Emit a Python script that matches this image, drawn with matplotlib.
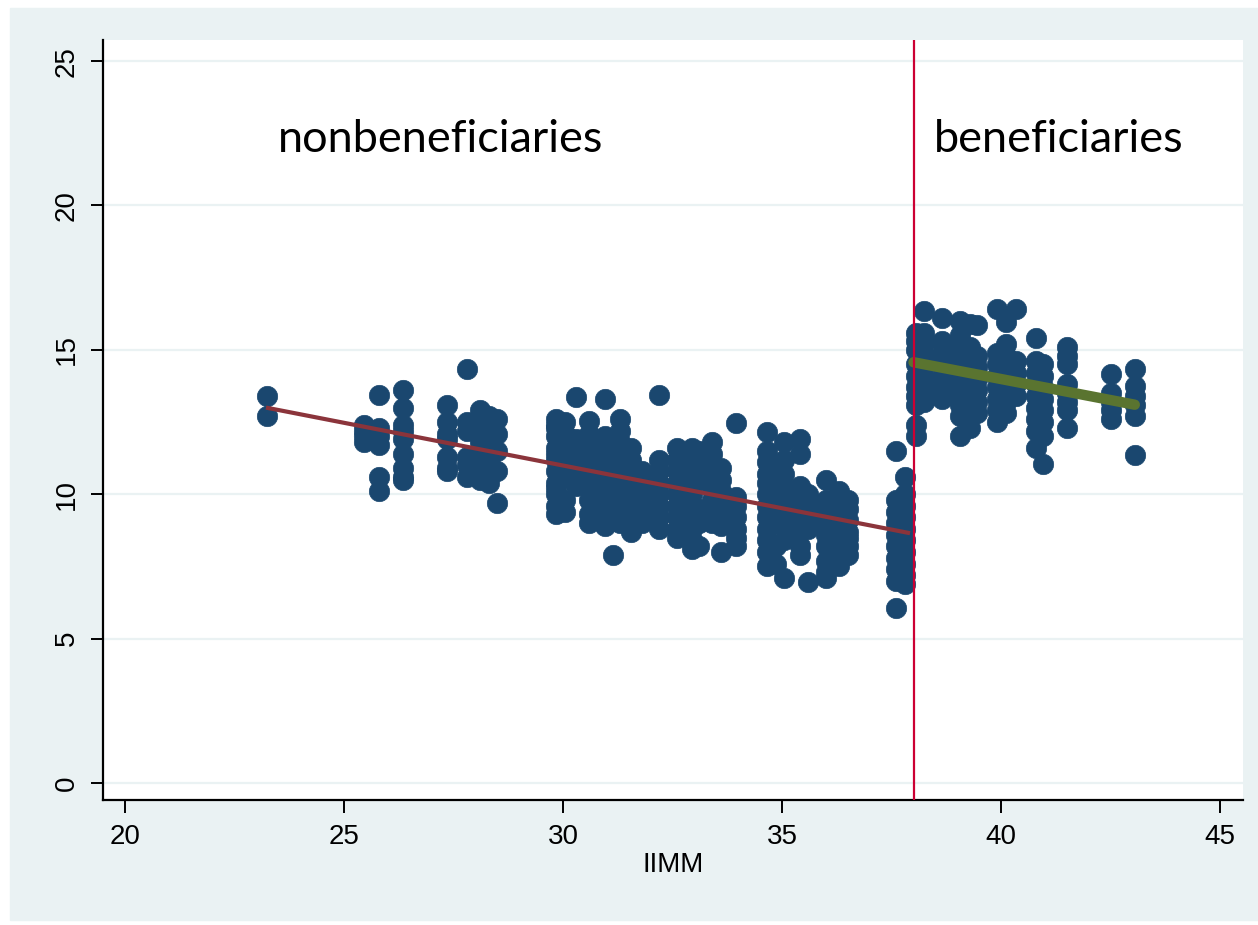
import matplotlib
matplotlib.use("Agg")
import matplotlib.pyplot as plt
import numpy as np

#===========data===========
# nonbeneficiaries (IIMM < 38), grouped by column
non_x = (
    [23.25]*2 + [25.45]*4 + [25.8]*6 + [26.35]*9 + [27.35]*7 + [27.8]*6
    + [28.1]*7 + [28.3]*7 + [28.5]*5 + [29.85]*13 + [30.05]*7 + [30.3]*6
    + [30.6]*9 + [30.95]*10 + [31.15]*7 + [31.3]*9 + [31.55]*8 + [31.8]*6
    + [32.2]*8 + [32.6]*9 + [32.95]*10 + [33.1]*6 + [33.4]*8 + [33.6]*7
    + [33.95]*7 + [34.65]*12 + [34.85]*8 + [35.05]*9 + [35.4]*9 + [35.6]*5
    + [36.0]*9 + [36.3]*8 + [36.5]*7 + [37.6]*10 + [37.8]*10
)
non_y = [
    13.4, 12.7,
    12.4, 12.2, 12.0, 11.8,
    13.45, 12.3, 12.0, 11.7, 10.6, 10.1,
    13.6, 13.0, 12.4, 12.2, 11.9, 11.4, 10.9, 10.6, 10.5,
    13.1, 12.5, 12.1, 11.9, 11.3, 10.9, 10.8,
    14.35, 12.5, 12.2, 11.3, 10.6, 11.0,
    12.9, 12.5, 12.2, 11.8, 11.4, 10.9, 10.5,
    12.7, 12.3, 12.0, 11.6, 11.1, 10.7, 10.4,
    12.6, 12.1, 11.5, 10.8, 9.7,
    12.6, 12.3, 12.0, 11.6, 11.2, 10.8, 10.4, 10.0, 9.6, 9.3, 12.4, 11.4, 10.2,
    12.5, 12.1, 11.7, 11.0, 10.6, 9.8, 9.4,
    13.35, 11.9, 11.5, 11.1, 10.7, 10.3,
    12.55, 12.1, 11.8, 11.3, 10.8, 10.3, 9.8, 9.3, 9.0,
    13.3, 12.0, 11.6, 11.2, 10.9, 10.5, 10.1, 9.7, 9.3, 8.9,
    11.8, 11.4, 11.0, 10.6, 10.2, 9.5, 7.9,
    12.6, 12.2, 11.8, 11.3, 10.8, 10.4, 10.0, 9.5, 9.0,
    11.6, 11.2, 10.8, 10.4, 10.0, 9.6, 9.1, 8.7,
    10.8, 10.4, 10.0, 9.6, 9.2, 9.0,
    13.45, 11.2, 10.8, 10.4, 10.0, 9.6, 9.2, 8.8,
    11.6, 11.2, 10.8, 10.4, 10.0, 9.6, 9.2, 8.8, 8.5,
    11.6, 11.2, 10.8, 10.4, 10.0, 9.6, 9.2, 8.8, 8.4, 8.1,
    11.5, 11.0, 10.5, 9.5, 9.0, 8.2,
    11.8, 11.4, 11.0, 10.6, 10.2, 9.8, 9.4, 9.0,
    10.9, 10.5, 10.1, 9.7, 9.3, 8.9, 8.0,
    12.45, 9.9, 9.6, 9.2, 8.8, 8.5, 8.2,
    12.15, 11.5, 11.1, 10.7, 10.4, 10.0, 9.6, 9.2, 8.8, 8.4, 8.0, 7.5,
    11.0, 10.6, 10.2, 9.8, 9.4, 9.0, 8.2, 7.6,
    11.8, 11.2, 10.7, 10.2, 9.8, 9.3, 8.9, 8.4, 7.1,
    11.9, 11.4, 10.3, 9.9, 9.5, 9.1, 8.7, 8.2, 7.9,
    10.0, 9.6, 9.2, 8.8, 6.95,
    10.5, 9.8, 9.4, 9.0, 8.6, 8.2, 7.7, 7.3, 7.1,
    10.1, 9.7, 9.3, 8.9, 8.5, 8.1, 7.7, 7.5,
    9.8, 9.5, 9.1, 8.7, 8.5, 8.2, 7.9,
    11.5, 9.8, 9.4, 9.0, 8.6, 8.2, 7.8, 7.4, 7.0, 6.05,
    10.6, 10.0, 9.6, 9.2, 8.8, 8.4, 8.0, 7.6, 7.2, 6.9,
]

# beneficiaries (IIMM >= 38)
ben_x = (
    [38.05]*10 + [38.25]*8 + [38.65]*8 + [39.05]*10 + [39.3]*9 + [39.45]*7
    + [39.9]*8 + [40.1]*8 + [40.35]*5 + [40.8]*9 + [40.95]*8 + [41.5]*8
    + [42.5]*5 + [43.05]*6
)
ben_y = [
    15.3, 15.6, 15.0, 14.5, 14.1, 13.7, 13.4, 13.1, 12.4, 12.0,
    16.35, 15.6, 15.2, 14.8, 14.4, 14.0, 13.6, 13.2,
    16.1, 15.3, 14.9, 14.5, 14.1, 13.7, 13.4, 13.3,
    16.0, 15.5, 15.1, 14.7, 14.3, 13.9, 13.5, 13.1, 12.7, 12.0,
    15.9, 15.1, 14.7, 14.3, 13.9, 13.5, 13.1, 12.7, 12.3,
    15.85, 14.8, 14.4, 14.0, 13.6, 13.2, 12.8,
    16.4, 14.9, 14.5, 14.1, 13.7, 13.3, 12.9, 12.5,
    15.95, 15.2, 14.8, 14.4, 14.0, 13.6, 13.2, 12.8,
    16.4, 14.6, 14.2, 13.8, 13.4,
    15.4, 14.6, 14.2, 13.8, 13.4, 13.0, 12.6, 12.2, 11.6,
    14.5, 14.1, 13.7, 13.3, 12.9, 12.5, 12.0, 11.05,
    15.1, 14.8, 14.5, 13.8, 13.5, 13.2, 12.9, 12.3,
    14.15, 13.5, 13.2, 12.9, 12.6,
    14.35, 13.75, 13.4, 13.1, 12.7, 11.35,
]

# fitted lines (end points)
fit_non_x = [23.22, 37.92]
fit_non_y = [13.0, 8.65]
fit_ben_x = [38.0, 43.05]
fit_ben_y = [14.57, 13.1]

cutoff = 38
xticks = [20, 25, 30, 35, 40, 45]
yticks = [0, 5, 10, 15, 20, 25]

#===========plot===========
bg = "#EAF2F3"
navy = "#1A476F"

fig = plt.figure(figsize=(12.58, 9.25), dpi=100, facecolor="white")
fig.patches.append(plt.Rectangle((10/1258, 5/925), 1 - 10/1258, 1 - 13/925,
                                 transform=fig.transFigure, color=bg, zorder=-10))
ax = fig.add_axes([103/1258, 125/925, 1140/1258, 760/925])
ax.set_facecolor("white")

ax.scatter(non_x, non_y, s=215, color=navy, edgecolors=navy, linewidths=0.5, zorder=3)
ax.scatter(ben_x, ben_y, s=215, color=navy, edgecolors=navy, linewidths=0.5, zorder=3)
ax.plot(fit_non_x, fit_non_y, color="#8B343B", lw=3, solid_capstyle="butt", zorder=4)
ax.plot(fit_ben_x, fit_ben_y, color="#5A7430", lw=7.5, solid_capstyle="round", zorder=4)
ax.axvline(cutoff, color="#CC0033", lw=1.6, zorder=5)

ax.text(23.49, 22.3, "nonbeneficiaries", fontsize=32.5, family="Lato", va="center", ha="left")
ax.text(38.47, 22.3, "beneficiaries", fontsize=32.5, family="Lato", va="center", ha="left")

ax.set_xlim(19.5, 45.52)
ax.set_ylim(-0.59, 25.73)
ax.set_xticks(xticks)
ax.set_yticks(yticks)
ax.set_xticklabels([str(t) for t in xticks], fontsize=20, family="Liberation Sans")
ax.set_yticklabels([str(t) for t in yticks], fontsize=20, family="Liberation Sans",
                   rotation=90, va="center")
ax.set_xlabel("IIMM", fontsize=20, family="Liberation Sans", labelpad=2)

ax.grid(axis="y", color=bg, lw=1.6, zorder=0)
ax.set_axisbelow(True)
for s in ["top", "right"]:
    ax.spines[s].set_visible(False)
for s in ["left", "bottom"]:
    ax.spines[s].set_linewidth(1.6)
ax.tick_params(axis="both", length=9, width=1.4, pad=8)

plt.savefig("out.png", dpi=100, facecolor=fig.get_facecolor())
